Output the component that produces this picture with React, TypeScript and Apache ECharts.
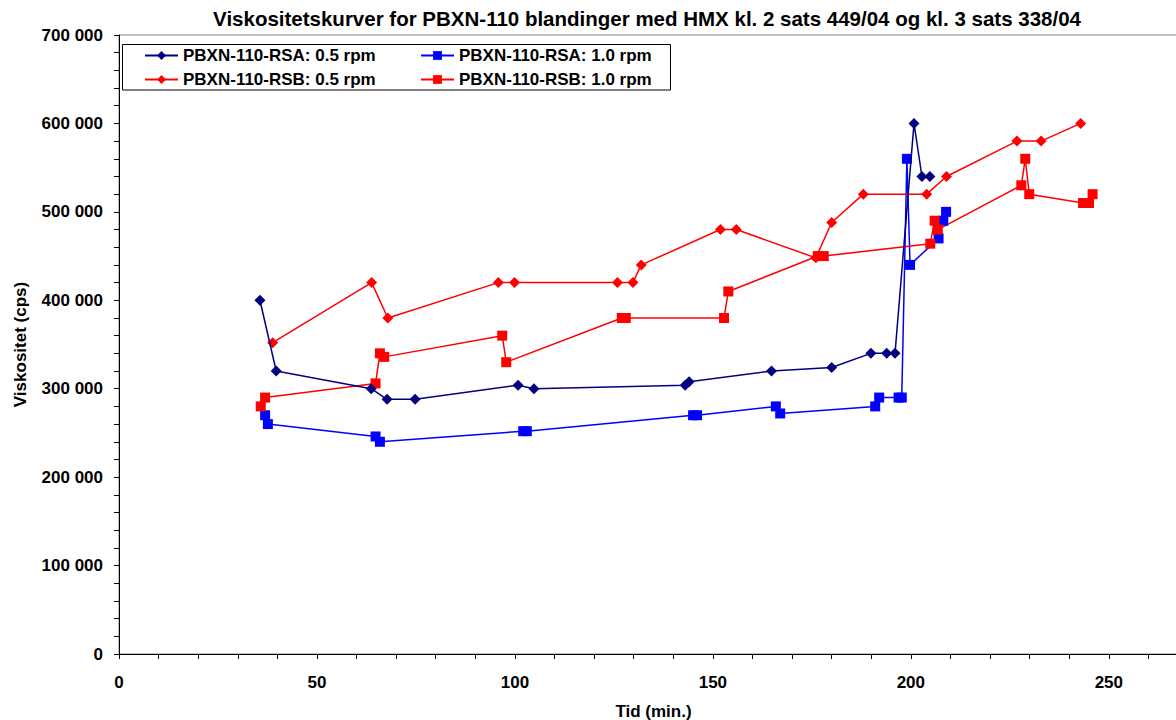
import React, { useEffect, useRef } from "react";
import * as echarts from "echarts";

const titleText =
  "Viskositetskurver for PBXN-110 blandinger med HMX kl. 2 sats 449/04 og kl. 3 sats 338/04";
const xAxisName = "Tid (min.)";
const yAxisName = "Viskositet (cps)";

const seriesNames = [
  "PBXN-110-RSA: 0.5 rpm",
  "PBXN-110-RSA: 1.0 rpm",
  "PBXN-110-RSB: 0.5 rpm",
  "PBXN-110-RSB: 1.0 rpm",
];

const rsa05Time = [35.6, 39.7, 63.7, 67.7, 74.8, 100.8, 104.8, 143, 144, 164.8, 180, 189.9, 193.9, 196, 200.8, 202.8, 204.8];
const rsa05Visc = [400000, 320000, 300000, 288000, 288000, 304000, 300000, 304000, 308000, 320000, 324000, 340000, 340000, 340000, 600000, 540000, 540000];

const rsa10Time = [36.9, 37.6, 64.8, 65.9, 102.1, 103, 145, 146, 165.9, 167, 191, 192, 196.9, 197.7, 199, 199.8, 207, 208.2, 208.9];
const rsa10Visc = [270000, 260000, 246000, 240000, 252000, 252000, 270000, 270000, 280000, 272000, 280000, 290000, 290000, 290000, 560000, 440000, 470000, 490000, 500000];

const rsb05Time = [38.8, 63.8, 67.9, 95.8, 99.9, 125.9, 129.8, 131.9, 151.9, 155.9, 176, 180, 188, 204, 209, 226.8, 232.9, 242.9];
const rsb05Visc = [352000, 420000, 380000, 420000, 420000, 420000, 420000, 440000, 480000, 480000, 448000, 488000, 520000, 520000, 540000, 580000, 580000, 600000];

const rsb10Time = [35.8, 36.9, 64.8, 65.9, 67, 96.8, 97.8, 127, 128, 152.8, 153.9, 176.5, 178, 204.9, 206, 206.8, 227.9, 228.9, 229.9, 243.5, 245, 245.9];
const rsb10Visc = [280000, 290000, 306000, 340000, 336000, 360000, 330000, 380000, 380000, 380000, 410000, 450000, 450000, 464000, 490000, 480000, 530000, 560000, 520000, 510000, 510000, 520000];

const seriesColors = ["#000080", "#0000FF", "#FF0000", "#FF0000"];
const seriesSymbols = ["diamond", "rect", "diamond", "rect"];

const FONT = "'Liberation Sans', Arial, sans-serif";

function zip(t: number[], v: number[]) {
  return t.map((x, i) => [x, v[i]]);
}

function fmtThousands(v: number) {
  return String(Math.round(v)).replace(/\B(?=(\d{3})+(?!\d))/g, " ");
}

export default function App() {
  const ref = useRef<HTMLDivElement>(null);

  useEffect(() => {
    if (!ref.current) return;
    const chart = echarts.init(ref.current, undefined, { renderer: "svg" });
    const datasets = [
      zip(rsa05Time, rsa05Visc),
      zip(rsa10Time, rsa10Visc),
      zip(rsb05Time, rsb05Visc),
      zip(rsb10Time, rsb10Visc),
    ];
    const legendText = { fontFamily: FONT, fontSize: 17, fontWeight: "bold", color: "#000" };
    const axisText = { fontFamily: FONT, fontSize: 17, fontWeight: "bold", color: "#000" };
    chart.setOption({
      animation: false,
      backgroundColor: "#fff",
      graphic: [
        {
          type: "text",
          x: 647,
          y: 18,
          style: {
            text: titleText,
            fontFamily: FONT,
            fontSize: 20.5,
            fontWeight: "bold",
            fill: "#000",
            textAlign: "center",
            textVerticalAlign: "middle",
          },
        },
        {
          type: "rect",
          z: 3,
          shape: { x: 122.5, y: 44.5, width: 548, height: 45.5 },
          style: { fill: "#fff", stroke: "#000", lineWidth: 1 },
        },
      ],
      legend: [
        {
          orient: "vertical",
          left: 144,
          top: 47,
          itemWidth: 33,
          itemHeight: 11,
          itemGap: 7,
          padding: 0,
          data: [seriesNames[0], seriesNames[2]],
          textStyle: legendText,
        },
        {
          orient: "vertical",
          left: 420,
          top: 47,
          itemWidth: 33,
          itemHeight: 11,
          itemGap: 7,
          padding: 0,
          data: [seriesNames[1], seriesNames[3]],
          textStyle: legendText,
        },
      ],
      grid: {
        left: 119,
        top: 35,
        width: 1069,
        height: 619,
        outerBoundsMode: "none",
        containLabel: false,
        show: true,
        borderColor: "#808080",
        borderWidth: 1,
        backgroundColor: "transparent",
      },
      xAxis: {
        type: "value",
        min: 0,
        max: 270,
        interval: 10,
        name: xAxisName,
        nameLocation: "middle",
        nameGap: 49,
        nameTextStyle: axisText,
        axisLine: { show: true, onZero: false, lineStyle: { color: "#000", width: 1 } },
        axisTick: { show: true, inside: false, length: 5, lineStyle: { color: "#000" } },
        axisLabel: {
          margin: 20,
          ...axisText,
          formatter: (v: number) => (v % 50 === 0 ? String(v) : ""),
        },
        splitLine: { show: false },
      },
      yAxis: {
        type: "value",
        min: 0,
        max: 700000,
        interval: 100000,
        name: yAxisName,
        nameLocation: "middle",
        nameGap: 90,
        nameTextStyle: axisText,
        axisLine: { show: true, lineStyle: { color: "#000", width: 1 } },
        axisTick: { show: true, inside: false, length: 5, lineStyle: { color: "#000" } },
        minorTick: { show: true, splitNumber: 5, length: 5, lineStyle: { color: "#000" } },
        axisLabel: {
          margin: 16,
          ...axisText,
          formatter: (v: number) => fmtThousands(v),
        },
        splitLine: { show: false },
      },
      series: datasets.map((d, i) => ({
        name: seriesNames[i],
        type: "line",
        data: d,
        symbol: seriesSymbols[i],
        symbolSize: seriesSymbols[i] === "rect" ? 10 : 11,
        showAllSymbol: true,
        clip: false,
        color: seriesColors[i],
        itemStyle: { color: seriesColors[i] },
        lineStyle: { color: seriesColors[i], width: 1.5 },
        z: i === 0 ? 4 : 3,
      })),
    });
    return () => chart.dispose();
  }, []);

  return (
    <div
      ref={ref}
      style={{ position: "fixed", left: 0, top: 0, width: 1176, height: 720, background: "#fff" }}
    />
  );
}
